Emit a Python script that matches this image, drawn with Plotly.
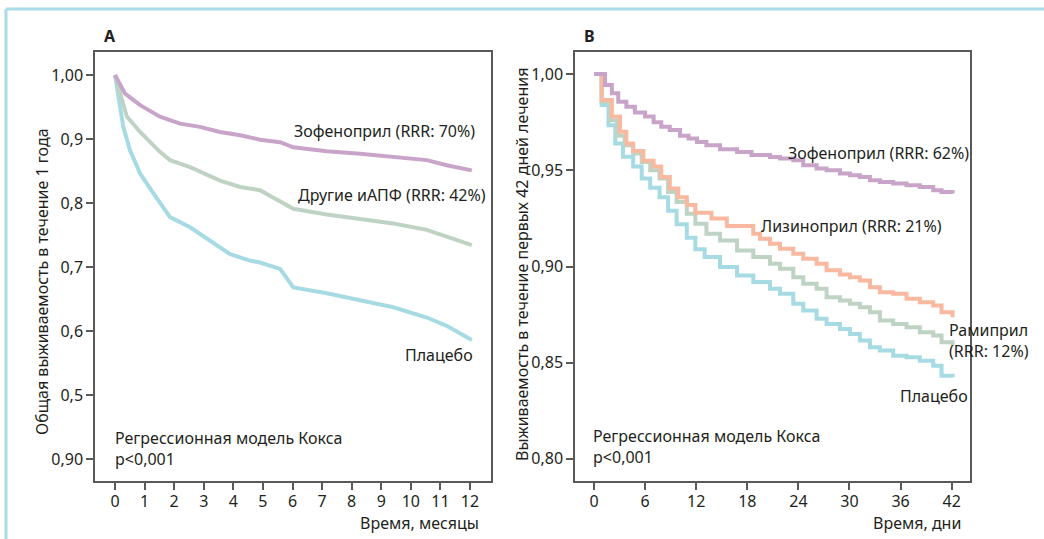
import plotly.graph_objects as go

W, H = 1044, 539

# ---------------- Panel A data (months) ----------------
zof_a_m = [0, 0.34, 0.85, 1.52, 2.2, 2.87, 3.55, 4.23, 4.90, 5.58, 6.03, 7.16, 8.28, 9.41, 10.54, 11.21, 12.06]
zof_a_y = [1.0, 0.971, 0.953, 0.935, 0.924, 0.919, 0.911, 0.906, 0.899, 0.895, 0.887, 0.881, 0.877, 0.872, 0.867, 0.859, 0.851]

oth_a_m = [0, 0.40, 0.85, 1.52, 1.86, 2.54, 3.55, 4.23, 4.90, 5.80, 6.03, 7.16, 8.28, 9.41, 10.54, 11.21, 12.06]
oth_a_y = [1.0, 0.935, 0.911, 0.880, 0.867, 0.856, 0.835, 0.825, 0.820, 0.796, 0.791, 0.782, 0.775, 0.768, 0.758, 0.747, 0.734]

pla_a_m = [0, 0.28, 0.51, 0.85, 1.30, 1.86, 2.54, 3.21, 3.89, 4.56, 4.90, 5.58, 5.80, 6.03, 7.16, 8.28, 9.41, 10.54, 11.21, 12.06]
pla_a_y = [1.0, 0.919, 0.882, 0.846, 0.815, 0.778, 0.762, 0.741, 0.720, 0.710, 0.707, 0.697, 0.684, 0.668, 0.659, 0.648, 0.637, 0.621, 0.608, 0.586]

a_tickvals = [1.0, 0.9, 0.8, 0.7, 0.6, 0.5, 0.4]
a_ticktext = ["1,00", "0,9", "0,8", "0,7", "0,6", "0,5", "0,90"]
a_xticks = list(range(0, 13))

# ---------------- Panel B data (days) ----------------
zof_b_d = [0, 1.3, 2.1, 2.85, 3.8, 4.8, 6.0, 7.0, 7.9, 8.9, 10.1, 11.1, 12.1, 13.2, 14.8, 16.8, 18.5,
           20.66, 21.84, 23.4, 24.57, 26.14, 27.31, 28.88, 30.05, 31.22, 32.4, 33.57, 35.13, 36.7, 38.26, 39.83, 40.81, 42.1]
zof_b_y = [1.0, 0.9943, 0.990, 0.9856, 0.983, 0.980, 0.978, 0.975, 0.9726, 0.971, 0.968, 0.9665, 0.9647, 0.963, 0.961, 0.9595, 0.958,
           0.9569, 0.9561, 0.9552, 0.9526, 0.9509, 0.950, 0.9483, 0.9474, 0.9465, 0.9448, 0.9439, 0.9431, 0.9422, 0.9413, 0.9396, 0.9387, 0.9379]

lis_b_d = [0, 0.9, 2.1, 3.05, 3.8, 4.6, 5.8, 7.0, 7.9, 8.9, 9.9, 10.9, 11.9, 13.8, 15.6, 18.7,
           19.49, 20.66, 21.84, 23.4, 24.57, 26.14, 27.31, 28.88, 30.05, 31.22, 32.4, 33.57, 35.13, 36.7, 38.26, 39.83, 40.81, 42.1]
lis_b_y = [1.0, 0.9865, 0.978, 0.970, 0.964, 0.960, 0.955, 0.952, 0.9465, 0.9405, 0.936, 0.932, 0.928, 0.925, 0.921, 0.917,
           0.9144, 0.9118, 0.9092, 0.9066, 0.904, 0.9014, 0.898, 0.8958, 0.8944, 0.8927, 0.8892, 0.8866, 0.8858, 0.8832, 0.8814, 0.8797, 0.8762, 0.8736]

ram_b_d = [0, 0.9, 1.9, 2.7, 3.6, 4.6, 5.6, 6.6, 7.7, 8.7, 9.7, 10.9, 11.9, 13.2, 14.8, 16.8, 18.7,
           20.66, 21.84, 23.4, 24.57, 26.14, 27.31, 28.88, 30.05, 31.22, 32.4, 33.57, 35.13, 36.7, 38.26, 39.83, 40.81, 42.1]
ram_b_y = [1.0, 0.9856, 0.976, 0.968, 0.963, 0.9587, 0.9543, 0.950, 0.9457, 0.9387, 0.9335, 0.9274, 0.9222, 0.917, 0.9135, 0.9083, 0.905,
           0.9014, 0.8988, 0.8944, 0.891, 0.8884, 0.884, 0.8823, 0.8806, 0.8788, 0.8762, 0.8719, 0.8701, 0.8684, 0.8658, 0.8641, 0.8606, 0.8589]

pla_b_d = [0, 0.9, 1.7, 2.5, 3.4, 4.6, 5.6, 6.6, 7.7, 8.7, 9.7, 10.9, 11.9, 13.0, 14.8, 16.8, 18.7,
           20.66, 21.84, 23.4, 24.57, 26.14, 27.31, 28.88, 30.05, 31.22, 32.4, 33.57, 35.13, 36.7, 38.26, 39.83, 40.81, 42.1]
pla_b_y = [1.0, 0.984, 0.9734, 0.964, 0.957, 0.952, 0.9457, 0.941, 0.936, 0.929, 0.922, 0.915, 0.909, 0.905, 0.8997, 0.8953, 0.892,
           0.8884, 0.8858, 0.8806, 0.8771, 0.8728, 0.8701, 0.8675, 0.8649, 0.8615, 0.858, 0.8563, 0.8536, 0.8528, 0.851, 0.8484, 0.8432, 0.8424]

b_tickvals = [1.0, 0.95, 0.90, 0.85, 0.80]
b_ticktext = ["1,00", "0,95", "0,90", "0,85", "0,80"]
b_xticks = [0, 6, 12, 18, 24, 30, 36, 42]

# ---------------- styles ----------------
C_PURPLE = "#c9a4c9"
C_GREEN = "#bfd3c4"
C_CYAN = "#a6dbe3"
C_ORANGE = "#f8b9a0"
C_FRAME = "#a9dce6"
C_AXIS = "#595959"
C_TEXT = "#231f20"
FONT = "Noto Sans"
FS = 16


def px(x):
    return x / W


def py(y):
    return 1 - y / H


fig = go.Figure()

def add_line(x, y, color, xa, ya, shape="linear", width=4):
    fig.add_trace(go.Scatter(x=x, y=y, mode="lines", xaxis=xa, yaxis=ya,
                             line=dict(color=color, width=width, shape=shape),
                             hoverinfo="skip", showlegend=False))

add_line(pla_a_m, pla_a_y, C_CYAN, "x", "y")
add_line(oth_a_m, oth_a_y, C_GREEN, "x", "y")
add_line(zof_a_m, zof_a_y, C_PURPLE, "x", "y")

add_line(pla_b_d, pla_b_y, C_CYAN, "x2", "y2", "hv")
add_line(ram_b_d, ram_b_y, C_GREEN, "x2", "y2", "hv")
add_line(lis_b_d, lis_b_y, C_ORANGE, "x2", "y2", "hv")
add_line(zof_b_d, zof_b_y, C_PURPLE, "x2", "y2", "hv")

axis_common = dict(showline=True, mirror=True, linecolor=C_AXIS, linewidth=1.5,
                   ticks="outside", ticklen=7, tickcolor=C_AXIS, tickwidth=1.5,
                   showgrid=False, zeroline=False,
                   tickfont=dict(family=FONT, size=FS, color=C_TEXT))

fig.update_layout(
    width=W, height=H, margin=dict(l=0, r=0, t=0, b=0),
    paper_bgcolor="white", plot_bgcolor="white",
    font=dict(family=FONT, size=FS, color=C_TEXT),
    xaxis=dict(domain=[px(95), px(491)], range=[-0.676, 12.71], ticklabelstandoff=-2,
               tickvals=a_xticks, ticktext=[str(v) for v in a_xticks], anchor="y", **axis_common),
    yaxis=dict(domain=[py(481), py(52)], range=[0.3655, 1.036],
               tickvals=a_tickvals, ticktext=a_ticktext, anchor="x", **axis_common),
    xaxis2=dict(domain=[px(575), px(970)], range=[-2.23, 44.15], ticklabelstandoff=-2,
                tickvals=b_xticks, ticktext=[str(v) for v in b_xticks], anchor="y2", **axis_common),
    yaxis2=dict(domain=[py(481), py(52)], range=[0.7885, 1.0115],
                tickvals=b_tickvals, ticktext=b_ticktext, anchor="x2", **axis_common),
)

ann = []

def text(x, y, s, xanchor="left", size=FS, bold=False, angle=0, align="left"):
    ann.append(dict(x=px(x), y=py(y), xref="paper", yref="paper", text=("<b>%s</b>" % s) if bold else s,
                    showarrow=False, xanchor=xanchor, yanchor="middle", textangle=angle, align=align,
                    font=dict(family=FONT, size=size, color=C_TEXT)))

# panel titles
text(102, 36, "A", bold=True)
text(582, 36, "B", bold=True)

# y titles
text(42, 282, "Общая выживаемость в течение 1 года", xanchor="center", angle=-90)
text(522, 265, "Выживаемость в течение первых 42 дней лечения", xanchor="center", angle=-90)

# x titles
text(481, 523, "Время, месяцы", xanchor="right")
text(963, 523, "Время, дни", xanchor="right")

# Cox model notes
text(113, 448, "Регрессионная модель Кокса<br>p<0,001")
text(591, 446, "Регрессионная модель Кокса<br>p<0,001")

# curve labels, panel A
text(477, 131, "Зофеноприл (RRR: 70%)", xanchor="right")
text(488, 195, "Другие иАПФ (RRR: 42%)", xanchor="right")
text(475, 355, "Плацебо", xanchor="right")

# curve labels, panel B
text(971, 153, "Зофеноприл (RRR: 62%)", xanchor="right")
text(944, 226, "Лизиноприл (RRR: 21%)", xanchor="right")
text(947, 340, "Рамиприл<br>(RRR: 12%)")
text(970, 396, "Плацебо", xanchor="right")

fig.update_layout(annotations=ann)

# outer light-blue frame (top and left edges)
fig.add_shape(type="line", xref="paper", yref="paper", x0=px(6), x1=1, y0=py(9), y1=py(9),
              line=dict(color=C_FRAME, width=3))
fig.add_shape(type="line", xref="paper", yref="paper", x0=px(6), x1=px(6), y0=py(9), y1=0,
              line=dict(color=C_FRAME, width=3))

fig.write_html("out.html")
